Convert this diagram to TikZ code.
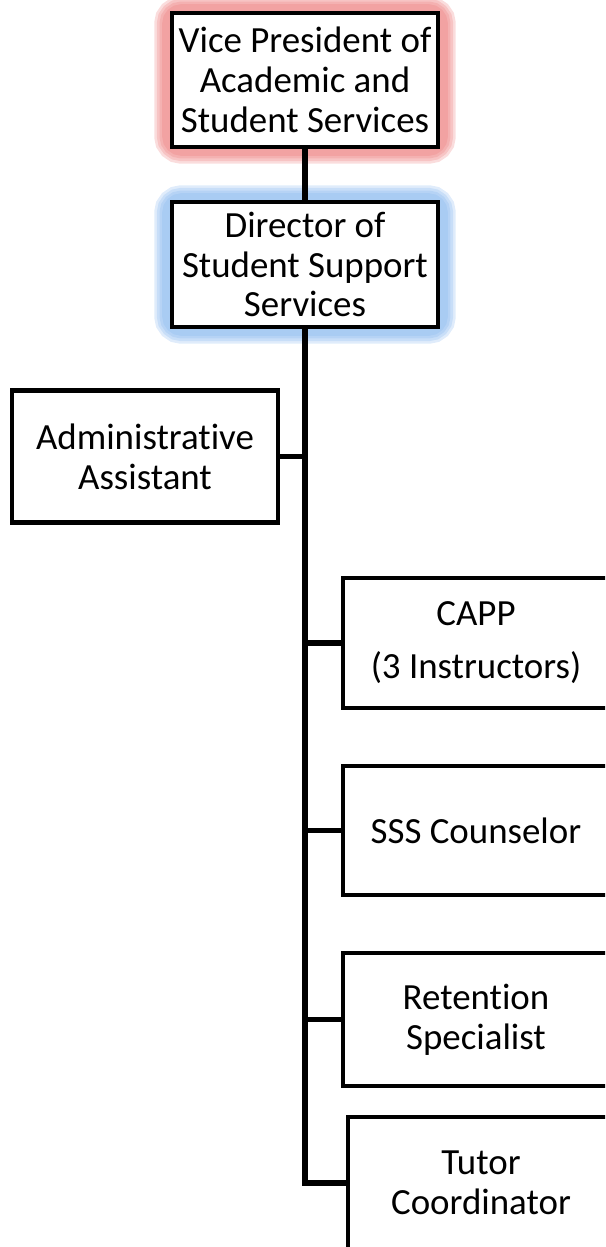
\documentclass[tikz,border=0pt]{standalone}
\usepackage{fontspec}
\setmainfont[Ligatures=NoCommon]{Carlito}
\usepackage{xcolor}
\usepackage{tikz}
\usetikzlibrary{positioning, calc}

\definecolor{glowred}{RGB}{236,120,120}
\definecolor{glowblue}{RGB}{130,180,238}

\begin{document}
\begin{tikzpicture}[
  x=0.02cm, y=-0.02cm,
  font=\fontsize{21}{22.7}\selectfont,
  post/.style={rectangle, draw, line width=2.7pt, fill=white, align=center,
    inner sep=0pt, minimum width=5.32cm, minimum height=2.64cm},
  link/.style={line width=2.9pt},
  glow/.style={line width=#1, rounded corners=6pt, opacity=0.25}
]
  \clip (0,0) rectangle (605,1247);

  % soft halo behind the two top posts
  \foreach \w in {19pt,16pt,13pt,10pt} {
    \draw[glow=\w, glowred] (171,13) rectangle (439,147);
    \draw[glow=\w, glowblue] (171,202) rectangle (439,327);
  }

  \node[post, minimum height=2.68cm] (vp) at (305,80) {Vice President of\\Academic and\\Student Services};
  \node[post, minimum height=2.5cm] (dir) at (305,264.5) {Director of\\Student Support\\Services};
  \node[post] (admin) at (145,456.5) {Administrative\\Assistant};
  \node[post, minimum height=2.6cm] (capp) at (476,643) {CAPP\\[0.26cm](3 Instructors)};
  \node[post, minimum height=2.58cm] (sss) at (476,830.5) {SSS Counselor};
  \node[post, minimum height=2.66cm] (ret) at (476,1019.5) {Retention\\Specialist};
  \node[post] (tutor) at (481,1183) {Tutor\\Coordinator};

  \coordinate (spine) at (dir.south |- tutor.west);

  \draw[link] (vp) -- (dir);
  \draw[link] (dir.south) -- (spine) -- (tutor.west);
  \draw[link] (admin.east) -- (admin.east -| dir.south);
  \draw[link] (capp.west) -- (capp.west -| dir.south);
  \draw[link] (sss.west) -- (sss.west -| dir.south);
  \draw[link] (ret.west) -- (ret.west -| dir.south);
\end{tikzpicture}
\end{document}
